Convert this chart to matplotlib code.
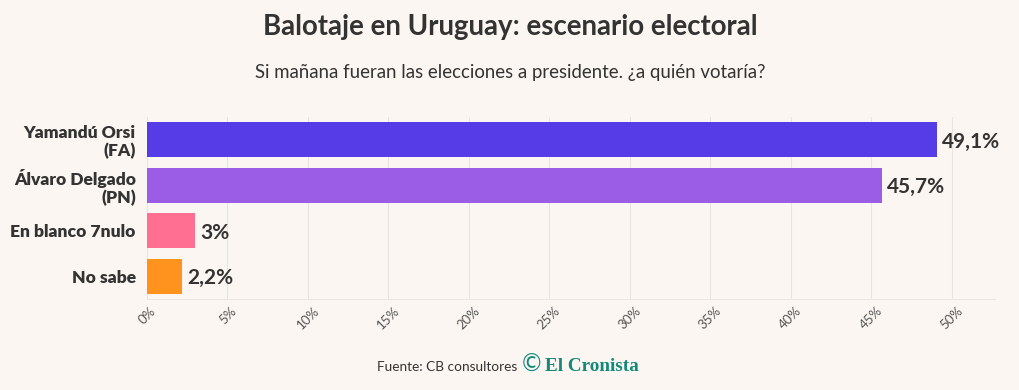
import matplotlib
matplotlib.use("Agg")
import matplotlib.pyplot as plt

# data
categories = ["Yamandú Orsi\n(FA)", "Álvaro Delgado\n(PN)", "En blanco 7nulo", "No sabe"]
values = [49.1, 45.7, 3.0, 2.2]
value_labels = ["49,1%", "45,7%", "3%", "2,2%"]
colors = ["#553ce6", "#9b5de5", "#ff6f91", "#ff931e"]
x_ticks = [0, 5, 10, 15, 20, 25, 30, 35, 40, 45, 50]

bg = "#fbf6f1"
text_color = "#333333"

plt.rcParams["font.family"] = ["Lato", "DejaVu Sans"]

fig = plt.figure(figsize=(10.2, 3.9), dpi=100)
fig.patch.set_facecolor(bg)
ax = fig.add_axes([0.1441, 0.2333, 0.8314, 0.4667])
ax.set_facecolor(bg)

ypos = list(range(len(categories)))
ax.barh(ypos, values, height=0.76, color=colors, zorder=3)
for y, v, lab in zip(ypos, values, value_labels):
    ax.text(v + 0.3, y + 0.04, lab, va="center", ha="left", fontsize=15,
            fontweight="bold", color=text_color)

ax.set_ylim(len(categories) - 0.5, -0.5)
ax.set_xlim(0, 52.7)
ax.set_yticks(ypos)
ax.set_yticklabels(categories, fontsize=12.6, fontweight="heavy", color=text_color,
                   linespacing=1.1)
ax.set_xticks(x_ticks)
ax.set_xticklabels([f"{t}%" for t in x_ticks], rotation=45, fontsize=9.5,
                   color="#555555", ha="center", va="top")
ax.tick_params(axis="y", length=0, pad=8)
ax.tick_params(axis="x", length=0, pad=4)
ax.grid(axis="x", color="#e8e4df", linewidth=0.8, zorder=0)
for s in ["top", "right", "left"]:
    ax.spines[s].set_visible(False)
ax.spines["bottom"].set_color("#ebe7e2")
ax.spines["bottom"].set_linewidth(0.8)

fig.text(0.5, 0.93, "Balotaje en Uruguay: escenario electoral", ha="center",
         va="center", fontsize=19.9, fontweight="bold", color=text_color)
fig.text(0.5, 0.815, "Si mañana fueran las elecciones a presidente. ¿a quién votaría?",
         ha="center", va="center", fontsize=13.4, color=text_color)

fig.text(0.507, 0.059, "Fuente: CB consultores", ha="right", va="center",
         fontsize=9.8, color=text_color)
fig.text(0.521, 0.064, "©", ha="center", va="center", fontsize=17,
         color="#14897a", family="DejaVu Sans")
fig.text(0.534, 0.059, "El Cronista", ha="left", va="center", fontsize=13.8,
         fontweight="bold", color="#14897a", family="Liberation Serif")

fig.savefig("out.png", dpi=100, facecolor=bg)
